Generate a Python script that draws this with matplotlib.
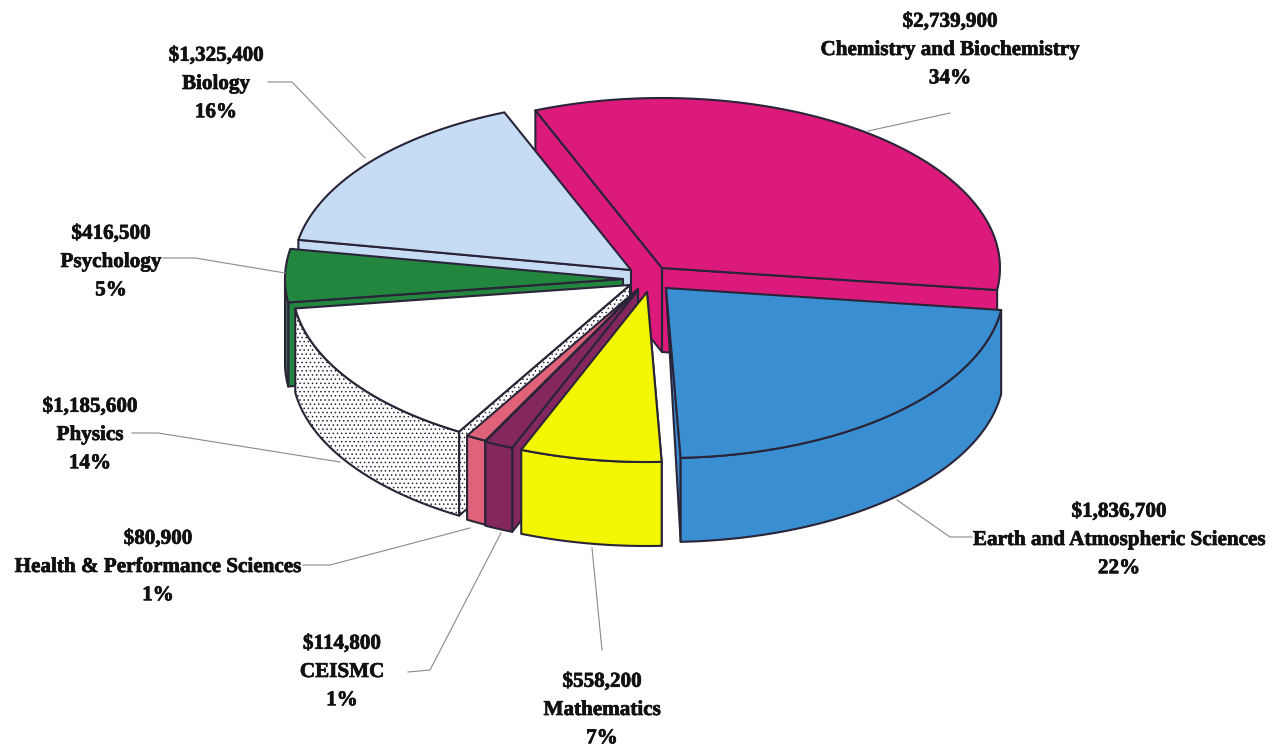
import matplotlib
matplotlib.use('Agg')
import matplotlib.pyplot as plt
from matplotlib.patches import Polygon
import matplotlib.patheffects as pe
import numpy as np

# Data
names = ['Chemistry and Biochemistry', 'Earth and Atmospheric Sciences', 'Mathematics', 'CEISMC',
         'Health & Performance Sciences', 'Physics', 'Psychology', 'Biology']
funding = [2739900, 1836700, 558200, 114800, 80900, 1185600, 416500, 1325400]
percents = ['34%', '22%', '7%', '1%', '1%', '14%', '5%', '16%']

# Drawing style of each slice
colors = ['#DB1A7C', '#3A8FD3', '#F2F600', '#84275F', '#DE6279', '#FFFFFF', '#23863F', '#C6DCF5']
apex_x = [662, 666, 647, 638, 638, 630, 623, 631]
apex_y = [268, 288, 292, 290, 289, 285, 279, 270]
label_x = [950, 1119, 602, 342, 158, 90, 111, 216]
label_y = [20, 510, 680, 642, 537, 405, 232, 54]
leaders = [[(868, 131), (950, 113)],
           [(897, 500), (950, 537), (972, 537)],
           [(592, 548), (602, 650)],
           [(501, 533), (430, 670), (408, 672)],
           [(470, 528), (330, 565), (303, 565)],
           [(340, 462), (158, 433), (132, 433)],
           [(285, 273), (195, 258), (163, 258)],
           [(365, 158), (292, 82), (268, 82)]]

rx, ry = 338, 170
depth = 84
start_angle = 112
edge = '#2A2438'

fig = plt.figure(figsize=(12.76, 7.49), dpi=100)
ax = fig.add_axes([0, 0, 1, 1])
ax.set_xlim(0, 1276)
ax.set_ylim(749, 0)
ax.axis('off')

sweeps = np.array(funding) / sum(funding) * 360
t1 = start_angle - np.concatenate([[0], np.cumsum(sweeps)[:-1]])
t2 = t1 - sweeps


def rim(i, a, b, n=80):
    t = np.radians(np.linspace(a, b, n))
    return np.column_stack([apex_x[i] + rx * np.cos(t), apex_y[i] - ry * np.sin(t)])


def patch(pts, i, z, hatch=None, color=None):
    kw = dict(closed=True, facecolor=color or colors[i], edgecolor=edge, linewidth=1.5, joinstyle='round', zorder=z)
    if hatch:
        kw['hatch'] = hatch
    ax.add_patch(Polygon(pts, **kw))


def top(i, z):
    patch(np.vstack([[apex_x[i], apex_y[i]], rim(i, t1[i], t2[i])]), i, z)


def cut_wall(i, angle, z, hatch=None):
    p = rim(i, angle, angle, 1)[0]
    a = np.array([apex_x[i], apex_y[i]])
    patch(np.array([a, p, p + [0, depth], a + [0, depth]]), i, z, hatch)


def side_wall(i, z, hatch=None, color=None):
    a = max(t2[i], -180)
    b = min(t1[i], 0)
    r = rim(i, b, a)
    patch(np.vstack([r, r[::-1] + [0, depth]]), i, z, hatch, color)


plt.rcParams['hatch.linewidth'] = 0.6
plt.rcParams['hatch.color'] = '#333333'
dots = '....'

# back to front
chem, earth, math, ceismc, health, physics, psych, bio = range(8)
cut_wall(chem, t1[chem], 1)
cut_wall(chem, t2[chem], 1)
top(chem, 2)
cut_wall(bio, t1[bio], 3)
top(bio, 4)
cut_wall(psych, t1[psych], 5)
side_wall(psych, 5, color='#46695A')
top(psych, 6)
cut_wall(physics, t1[physics], 7, dots)
side_wall(physics, 7, dots)
top(physics, 8)
for n, i in enumerate([health, ceismc, math]):
    cut_wall(i, t1[i], 9 + 2 * n)
    side_wall(i, 9 + 2 * n)
    top(i, 10 + 2 * n)

# earth's cut wall narrows to the apex, it is a triangle in the original
p = rim(earth, t2[earth], t2[earth], 1)[0]
patch(np.array([[apex_x[earth], apex_y[earth]], p, p + [0, depth]]), earth, 16)
side_wall(earth, 16)
top(earth, 17)

for pts in leaders:
    xs, ys = zip(*pts)
    ax.plot(xs, ys, color='#8A8A8A', linewidth=0.8, zorder=30)

for i in range(8):
    txt = f'${funding[i]:,}\n{names[i]}\n{percents[i]}'
    ax.text(label_x[i], label_y[i] + 30, txt, ha='center', va='center', ma='center', family='Liberation Serif',
            fontweight='bold', fontsize=15.2, linespacing=1.55, color='#111111', zorder=31,
            path_effects=[pe.withStroke(linewidth=0.5, foreground='#111111')])

fig.savefig('out.png', dpi=100)
